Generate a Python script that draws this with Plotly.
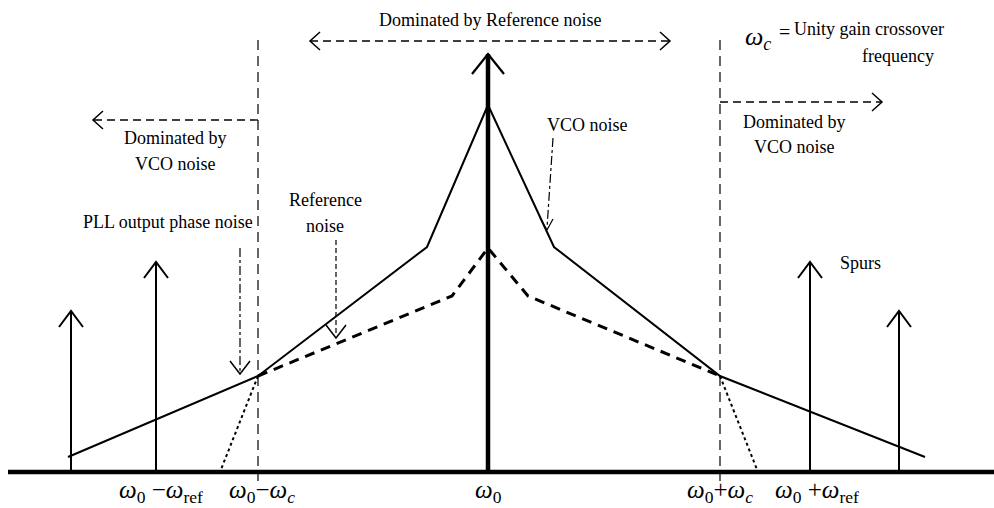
import plotly.graph_objects as go

# ---- data (diagram coordinates: x to the right, y downward, canvas units) ----
baseline_y = 472
center_x = 488
center_top = 54

# VCO (solid) noise profile
vco_x = [68, 258, 427, 488, 554, 720, 925]
vco_y = [457, 376, 247, 105, 247, 376, 457]

# Reference (dashed) noise profile
ref_x = [258, 452, 488, 528, 720]
ref_y = [376, 296, 248, 296, 376]

# dotted extrapolation of reference noise beyond crossover
dot_left_x = [258, 220]
dot_left_y = [376, 472]
dot_right_x = [720, 758]
dot_right_y = [376, 472]

# crossover frequencies (vertical dashed lines)
cross_x = [258, 720]
cross_top = 40
cross_bottom = 481

# spurs
spur_x = [71, 156, 810, 899]
spur_top = [311, 262, 262, 311]

# region arrows: (x_start, x_tip, y)
region_arrows = [(258, 93, 120), (720, 882, 102)]
top_arrow = (310, 670, 41)

# tick labels
tick_pos = [161, 262, 488, 720, 817]
tick_text = [
    "<i>ω</i><sub>0</sub> −<i>ω</i><sub>ref</sub>",
    "<i>ω</i><sub>0</sub>−<i>ω</i><sub><i>c</i></sub>",
    "<i>ω</i><sub>0</sub>",
    "<i>ω</i><sub>0</sub>+<i>ω</i><sub><i>c</i></sub>",
    "<i>ω</i><sub>0</sub> +<i>ω</i><sub>ref</sub>",
]

FONT = "Liberation Serif, Times New Roman, serif"
K = "black"

fig = go.Figure()


def line(xs, ys, width=2, dash="solid", color=K):
    fig.add_trace(go.Scatter(x=xs, y=ys, mode="lines",
                             line=dict(color=color, width=width, dash=dash),
                             hoverinfo="skip", showlegend=False))


def head_up(x, y, w=12, h=16, width=2):
    line([x - w, x, x + w], [y + h, y, y + h], width=width)


def head_down(x, y, w=10, h=13, width=1.5):
    line([x - w, x, x + w], [y - h, y, y - h], width=width)


def head_h(x, y, direction, w=10, h=9, width=1.5):
    d = -direction
    line([x + d * w, x, x + d * w], [y - h, y, y + h], width=width)


# baseline
line([8, 994], [baseline_y, baseline_y], width=4.5)

# crossover dashed verticals
for cx in cross_x:
    line([cx, cx], [cross_top, cross_bottom], width=1.2, dash="10px,6px")

# dotted extrapolations
line(dot_left_x, dot_left_y, width=2, dash="dot")
line(dot_right_x, dot_right_y, width=2, dash="dot")

# reference noise (dashed, thick)
line(ref_x, ref_y, width=3, dash="10px,7px")

# VCO noise (solid)
line(vco_x, vco_y, width=2)

# center carrier
line([center_x, center_x], [baseline_y, center_top], width=4.5)
head_up(center_x, center_top, w=16, h=20, width=2.2)

# spurs
for sx, st in zip(spur_x, spur_top):
    line([sx, sx], [baseline_y, st], width=2)
    head_up(sx, st)

# region arrows
for xs, xt, yy in region_arrows:
    line([xs, xt], [yy, yy], width=1.3, dash="8px,5px")
    head_h(xt, yy, 1 if xt > xs else -1)
x0, x1, yy = top_arrow
line([x0, x1], [yy, yy], width=1.3, dash="8px,5px")
head_h(x0, yy, -1)
head_h(x1, yy, 1)

# annotation pointers
line([240, 240], [248, 372], width=1.2, dash="dashdot")
head_down(240, 374)
line([336, 336], [240, 336], width=1.2, dash="5px,3px")
head_down(336, 338)
line([553, 547], [138, 228], width=1.2, dash="dashdot")
line([540, 547, 553], [218, 230, 219], width=1.2)

ann = []


def text(x, y, s, size=18, xanchor="center"):
    ann.append(dict(x=x, y=y, text=s, showarrow=False, xref="x", yref="y",
                    xanchor=xanchor, yanchor="middle", borderpad=0,
                    font=dict(family=FONT, size=size, color=K)))


text(490, 20, "Dominated by Reference noise")
text(175, 138, "Dominated by")
text(175, 164, "VCO noise")
text(794, 122, "Dominated by")
text(794, 147, "VCO noise")
text(168, 222, "PLL output phase noise")
text(325, 200, "Reference")
text(325, 226, "noise")
text(587, 125, "VCO noise")
text(860, 263, "Spurs")
text(744, 38, "<i>ω</i><sub><i>c</i></sub>", size=26, xanchor="left")
text(791, 32, "=", size=20, xanchor="right")
text(793, 29, "Unity gain crossover", xanchor="left")
text(898, 56, "frequency")

for tx, tt in zip(tick_pos, tick_text):
    text(tx, 491, tt, size=25)

fig.update_layout(
    width=994, height=508,
    margin=dict(l=0, r=0, t=0, b=0),
    paper_bgcolor="white", plot_bgcolor="white",
    xaxis=dict(range=[0, 994], visible=False, fixedrange=True),
    yaxis=dict(range=[508, 0], visible=False, fixedrange=True),
    annotations=ann,
    showlegend=False,
)

fig.write_html(
    "out.html",
    config={"displayModeBar": False, "staticPlot": True},
    post_script="document.body.style.margin='0';document.body.style.overflow='hidden';",
)
